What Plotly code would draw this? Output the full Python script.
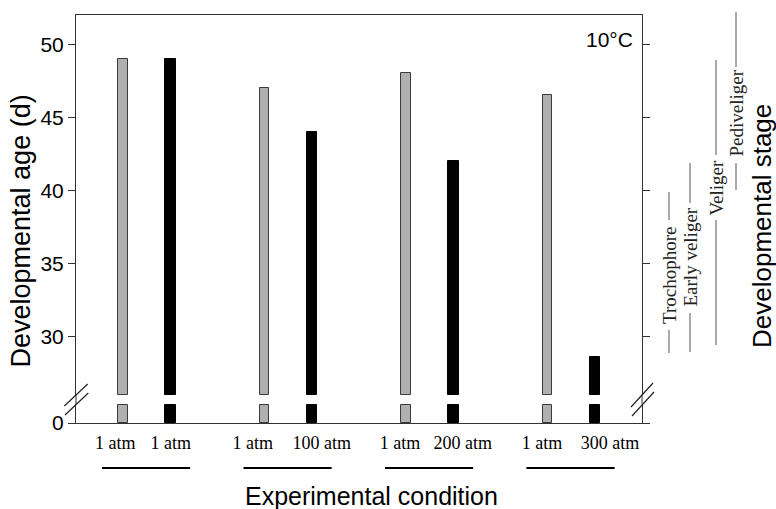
import plotly.graph_objects as go

# ---- data ----
control_labels = ["1 atm", "1 atm", "1 atm", "1 atm"]
treated_labels = ["1 atm", "100 atm", "200 atm", "300 atm"]
control_age = [49.0, 47.0, 48.0, 46.5]
treated_age = [49.0, 44.0, 42.0, 28.6]
y_ticks = [30, 35, 40, 45, 50]
stage_names = ["Trochophore", "Early veliger", "Veliger", "Pediveliger"]

BREAK = 26.0
W, H = 776, 509
L, R, T, B = 76, 134, 15, 86
PW, PH = W - L - R, H - T - B

def xp(px):
    return (px - L) / PW

def yp(py):
    return (H - B - py) / PH

upper_dom = [yp(395), 1.0]
lower_dom = [0.0, yp(404)]

x_ctrl = [3 * g for g in range(len(control_age))]
x_trt = [3 * g + 1 for g in range(len(treated_age))]

SANS = "Liberation Sans, Arial, sans-serif"
SERIF = "Liberation Serif, Times New Roman, serif"
GRAY = "#b0b0b0"
EDGE = "#3a3a3a"

fig = go.Figure()
# upper segments
fig.add_trace(go.Bar(x=x_ctrl, y=[v - BREAK for v in control_age], base=BREAK,
                     width=0.2, marker=dict(color=GRAY, line=dict(color=EDGE, width=1)),
                     xaxis="x", yaxis="y", showlegend=False))
fig.add_trace(go.Bar(x=x_trt, y=[v - BREAK for v in treated_age], base=BREAK,
                     width=0.22, marker=dict(color="black", line=dict(color="black", width=1)),
                     xaxis="x", yaxis="y", showlegend=False))
# lower segments (0 .. break)
fig.add_trace(go.Bar(x=x_ctrl, y=[min(v, BREAK) for v in control_age],
                     width=0.2, marker=dict(color=GRAY, line=dict(color=EDGE, width=1)),
                     xaxis="x2", yaxis="y2", showlegend=False))
fig.add_trace(go.Bar(x=x_trt, y=[min(v, BREAK) for v in treated_age],
                     width=0.22, marker=dict(color="black", line=dict(color="black", width=1)),
                     xaxis="x2", yaxis="y2", showlegend=False))

# tick labels sit slightly spread out from the bars, as in the original figure
ctrl_label_shift = [-0.17, -0.25, -0.13, -0.12]
trt_label_shift = [0.01, 0.21, 0.20, 0.32]
tickvals = []
ticktext = []
for g in range(len(control_age)):
    tickvals += [x_ctrl[g] + ctrl_label_shift[g], x_trt[g] + trt_label_shift[g]]
    ticktext += [control_labels[g], treated_labels[g]]

axis_line = dict(showline=True, linecolor="#333", linewidth=1, showgrid=False,
                 zeroline=False, automargin=False)

fig.update_layout(
    width=W, height=H,
    margin=dict(l=L, r=R, t=T, b=B, autoexpand=False),
    paper_bgcolor="white", plot_bgcolor="white",
    bargap=0,
    xaxis=dict(range=[-1, 11], domain=[0, 1], anchor="y", side="top",
               showticklabels=False, ticks="", **axis_line),
    xaxis2=dict(range=[-1, 11], domain=[0, 1], anchor="y2",
                tickvals=tickvals, ticktext=ticktext, ticks="", tickangle=0,
                tickfont=dict(family=SERIF, size=18, color="black"),
                ticklabelstandoff=3, **axis_line),
    yaxis=dict(domain=upper_dom, range=[BREAK, 52], anchor="x",
               tickvals=y_ticks, ticks="outside", ticklen=7, tickcolor="#333",
               mirror="ticks", tickfont=dict(family=SANS, size=21, color="black"),
               **axis_line),
    yaxis2=dict(domain=lower_dom, range=[0, BREAK * 1.04], anchor="x2",
                tickvals=[0], ticks="outside", ticklen=7, tickcolor="#333",
                mirror="ticks", tickfont=dict(family=SANS, size=21, color="black"),
                **axis_line),
)

shapes = []
# fill axis line across the break gap
for xx in (0, 1):
    shapes.append(dict(type="line", xref="paper", yref="paper", x0=xx, x1=xx,
                       y0=lower_dom[1], y1=upper_dom[0], line=dict(color="#333", width=1)))
# break marks
for (x0, y0, x1, y1) in [(64.3, 406, 87.7, 384), (65, 415, 88.3, 393),
                          (631, 407, 653, 383), (632, 416, 654, 392)]:
    shapes.append(dict(type="line", xref="paper", yref="paper",
                       x0=xp(x0), y0=yp(y0), x1=xp(x1), y1=yp(y1),
                       line=dict(color="#222", width=1.2)))
# group underlines
for g in range(len(control_age)):
    shapes.append(dict(type="line", xref="x2", yref="paper",
                       x0=x_ctrl[g] - 0.45, x1=x_trt[g] + 0.42, y0=yp(468), y1=yp(468),
                       line=dict(color="black", width=2)))

# stage labels: column x, lower line (bottom, top), text centre, upper line (bottom, top)
stage_layout = [
    (669, (353, 330), 275, (220, 192)),
    (690, (352, 313), 257.5, (203, 163)),
    (716, (345, 220), 187.5, (155, 60)),
    (736, (190, 163), 113.5, (67, 12)),
]
annotations = []
for name, (cx, low, cy, up) in zip(stage_names, stage_layout):
    for (a, b) in (low, up):
        shapes.append(dict(type="line", xref="paper", yref="paper",
                           x0=xp(cx), x1=xp(cx), y0=yp(a), y1=yp(b),
                           line=dict(color="#555", width=1)))
    annotations.append(dict(text=name, xref="paper", yref="paper", x=xp(cx), y=yp(cy),
                            textangle=-90, showarrow=False, xanchor="center", yanchor="middle",
                            font=dict(family=SERIF, size=19, color="#222")))

annotations += [
    dict(text="Developmental age (d)", xref="paper", yref="paper", x=xp(20), y=yp(231.5),
         textangle=-90, showarrow=False, xanchor="center", yanchor="middle",
         font=dict(family=SANS, size=27, color="black")),
    dict(text="Experimental condition", xref="paper", yref="paper", x=xp(371), y=yp(496),
         showarrow=False, xanchor="center", yanchor="middle",
         font=dict(family=SANS, size=25, color="black")),
    dict(text="Developmental stage", xref="paper", yref="paper", x=xp(762), y=yp(226),
         textangle=-90, showarrow=False, xanchor="center", yanchor="middle",
         font=dict(family=SANS, size=26, color="black")),
    dict(text="10°C", xref="paper", yref="paper", x=xp(635), y=yp(39),
         showarrow=False, xanchor="right", yanchor="middle",
         font=dict(family=SANS, size=21, color="black")),
]

fig.update_layout(shapes=shapes, annotations=annotations)
fig.write_html("out.html",
               config={"displayModeBar": False},
               post_script="document.body.style.margin='0';document.body.style.padding='0';")
